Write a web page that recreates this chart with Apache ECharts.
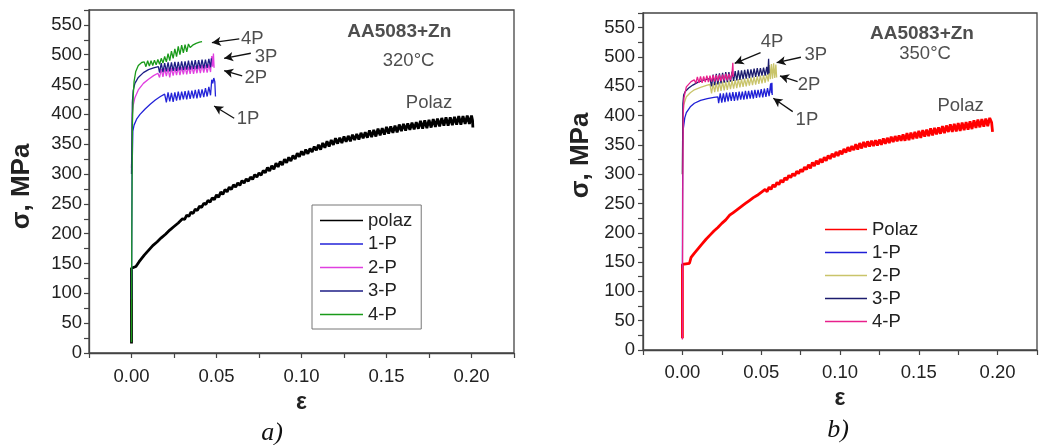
<!DOCTYPE html>
<html><head><meta charset="utf-8">
<script src="https://cdn.jsdelivr.net/npm/echarts@6/dist/echarts.min.js"></script>
<style>html,body{margin:0;padding:0;background:#fff}#c{width:1040px;height:445px}</style>
</head><body><div id="c"></div><script>
// ---------- tick labels ----------
const xTicks = [0, 0.05, 0.10, 0.15, 0.20];
const yTicks = [0, 50, 100, 150, 200, 250, 300, 350, 400, 450, 500, 550];

// ---------- a) 320°C ----------
const lPolaz = [[0,16],[0,142],[0.0026,145],[0.0045,153],[0.005,155],[0.0075,164],[0.010,172],[0.0125,180],[0.015,186],[0.0175,193],[0.020,199],[0.0225,206],[0.025,212],[0.0275,218],
[0.030,225],[0.03125,224],[0.0325,231],[0.03375,229],[0.035,236],[0.03625,234],[0.0375,241],[0.03875,239],[0.040,246],[0.04125,244],[0.0425,251],[0.04375,249],[0.045,256],[0.04625,253],[0.0475,260],[0.04875,257],
[0.050,265],[0.05125,261],[0.0525,270],[0.05375,266],[0.055,274],[0.05625,270],[0.0575,278],[0.05875,274],[0.060,282],[0.06125,278],[0.0625,285],[0.06375,281],[0.065,289],[0.06625,285],[0.0675,292],[0.06875,288],[0.070,295],[0.07125,291],[0.0725,299],[0.07375,295],[0.075,302],[0.07625,298],[0.0775,306],[0.07875,302],
[0.080,311],[0.08125,305],[0.0825,314],[0.08375,308],[0.085,318],[0.08625,312],[0.0875,321],[0.08875,315],[0.090,325],[0.09125,319],[0.0925,328],[0.09375,322],[0.095,331],[0.09625,325],[0.0975,335],[0.09875,329],[0.100,338],[0.10125,332],[0.1025,341],[0.10375,334],[0.105,343],[0.10625,337],[0.1075,346],[0.10875,340],
[0.110,349],[0.11125,341],[0.1125,352],[0.11375,344],[0.115,355],[0.11625,346],[0.1175,357],[0.11875,349],[0.120,360],[0.12125,351],[0.1225,361],[0.12375,352],[0.125,363],[0.12625,354],[0.1275,364],[0.12875,355],[0.130,366],[0.13125,357],[0.1325,367],[0.13375,358],[0.135,369],[0.13625,360],[0.1375,370],[0.13875,361],
[0.140,373],[0.14125,362],[0.1425,374],[0.14375,363],[0.145,376],[0.14625,365],[0.1475,377],[0.14875,366],[0.150,379],[0.15125,368],[0.1525,380],[0.15375,369],[0.155,381],[0.15625,370],[0.1575,383],[0.15875,372],[0.160,384],[0.16125,373],[0.1625,385],[0.16375,374],[0.165,386],[0.16625,375],[0.1675,387],[0.16875,376],
[0.170,389],[0.17125,376],[0.1725,390],[0.17375,377],[0.175,391],[0.17625,378],[0.1775,392],[0.17875,379],[0.180,393],[0.18125,380],[0.1825,394],[0.18375,381],[0.185,395],[0.18625,381],[0.1875,395],[0.18875,382],[0.190,396],[0.19125,383],[0.1925,397],[0.19375,383],[0.195,397],[0.19625,384],[0.1975,398],[0.19875,384],[0.200,398],[0.2006,390],[0.2008,378]];
const l1P = [[0,90],[0.0003,300],[0.0008,372],[0.0015,382],[0.003,392],[0.005,400],[0.008,409],[0.011,417],[0.014,424],[0.017,430],[0.0195,434],[0.0205,420],[0.0215,437],[0.0225,422],[0.0235,436],[0.0245,421],[0.0255,437],[0.0265,423],[0.0275,438],[0.0285,424],[0.0295,438],[0.0305,425],[0.0315,439],[0.0325,425],[0.0335,440],[0.0345,426],[0.0355,440],[0.0365,427],[0.0375,441],[0.0385,427],[0.0395,442],[0.0405,428],[0.0415,442],[0.0425,429],[0.0435,444],[0.0445,430],[0.0455,446],[0.0465,432],[0.0472,458],[0.0478,452],[0.0484,461],[0.0490,455],[0.0494,430]];
const l2P = [[0,310],[0.0005,400],[0.001,415],[0.002,428],[0.004,441],[0.007,452],[0.010,459],[0.013,465],[0.0155,469],[0.0165,462],[0.0175,476],[0.0185,463],[0.0195,477],[0.0205,464],[0.0215,477],[0.0225,462],[0.0235,478],[0.0245,465],[0.0255,478],[0.0265,466],[0.0275,479],[0.0285,466],[0.0295,479],[0.0305,467],[0.0315,480],[0.0325,467],[0.0335,480],[0.0345,468],[0.0355,481],[0.0365,468],[0.0375,481],[0.0385,469],[0.0395,482],[0.0405,469],[0.0415,483],[0.0425,470],[0.0435,483],[0.0445,470],[0.0455,484],[0.0465,471],[0.0472,498],[0.0477,480],[0.0482,502],[0.0486,478]];
const l3P = [[0,300],[0.0005,420],[0.001,440],[0.002,452],[0.004,462],[0.007,470],[0.010,475],[0.013,478],[0.0158,480],[0.0165,470],[0.0175,486],[0.0185,471],[0.0195,486],[0.0205,472],[0.0215,487],[0.0225,472],[0.0235,487],[0.0245,473],[0.0255,488],[0.0265,473],[0.0275,488],[0.0285,474],[0.0295,489],[0.0305,474],[0.0315,489],[0.0325,475],[0.0335,490],[0.0345,475],[0.0355,490],[0.0365,476],[0.0375,491],[0.0385,476],[0.0395,491],[0.0405,477],[0.0415,492],[0.0425,477],[0.0435,492],[0.0445,478],[0.0455,493],[0.0465,479],[0.047,494]];
const l4P = [[0,18],[0.0002,200],[0.0005,380],[0.001,430],[0.0015,455],[0.0025,472],[0.004,482],[0.006,487],[0.0075,488],[0.0085,480],[0.0095,490],[0.0105,481],[0.0115,490],[0.0125,482],[0.0135,491],[0.0145,483],[0.0155,492],[0.0165,484],[0.0175,494],[0.0185,486],[0.0195,497],[0.0205,488],[0.0215,502],[0.0225,490],[0.0235,506],[0.0245,494],[0.0255,510],[0.0265,497],[0.0275,514],[0.0285,500],[0.0295,516],[0.0305,503],[0.0315,517],[0.0325,505],[0.0335,518],[0.0345,512],[0.036,516],[0.038,519],[0.040,521],[0.0415,522]];
const lNotes = [['4P',0.071,526.5],['3P',0.0792,497],['2P',0.0731,462],['1P',0.0686,393],['Polaz',0.175,419],['320°C',0.163,490]];
const lHead = ['AA5083+Zn',0.1575,538];
const lArrows = [[0.0634,526.5,0.0473,520.3],[0.0702,502.5,0.0545,494],[0.0651,464.4,0.0545,473.3],[0.0604,393.5,0.0486,414]];

// ---------- b) 350°C ----------
const rPolaz = [[0,20],[0,146],[0.0045,148],[0.0055,158],[0.0075,165],[0.010,173],[0.0125,181],[0.015,189],[0.0175,196],[0.020,203],[0.0225,209],[0.025,216],[0.0275,222],
[0.030,230],[0.03125,228],[0.0325,235],[0.03375,233],[0.035,240],[0.03625,238],[0.0375,245],[0.03875,243],[0.040,250],[0.04125,248],[0.0425,255],[0.04375,253],[0.045,260],[0.04625,258],[0.0475,264],[0.04875,262],
[0.050,269],[0.05125,266],[0.0525,274],[0.05375,270],[0.055,278],[0.05625,274],[0.0575,282],[0.05875,278],[0.060,286],[0.06125,282],[0.0625,290],[0.06375,286],[0.065,294],[0.06625,290],[0.0675,298],[0.06875,294],[0.070,301],[0.07125,297],[0.0725,305],[0.07375,301],[0.075,308],[0.07625,304],[0.0775,312],[0.07875,308],
[0.080,316],[0.08125,310],[0.0825,320],[0.08375,314],[0.085,323],[0.08625,317],[0.0875,326],[0.08875,320],[0.090,329],[0.09125,323],[0.0925,332],[0.09375,326],[0.095,335],[0.09625,329],[0.0975,338],[0.09875,331],[0.100,340],[0.10125,334],[0.1025,343],[0.10375,337],[0.105,346],[0.10625,339],[0.1075,348],[0.10875,341],
[0.110,351],[0.11125,342],[0.1125,353],[0.11375,344],[0.115,355],[0.11625,346],[0.1175,356],[0.11875,347],[0.120,357],[0.12125,348],[0.1225,358],[0.12375,349],[0.125,359],[0.12625,350],[0.1275,361],[0.12875,352],[0.130,362],[0.13125,353],[0.1325,364],[0.13375,355],[0.135,365],[0.13625,356],[0.1375,366],[0.13875,357],
[0.140,368],[0.14125,357],[0.1425,370],[0.14375,358],[0.145,371],[0.14625,360],[0.1475,372],[0.14875,361],[0.150,374],[0.15125,362],[0.1525,375],[0.15375,364],[0.155,376],[0.15625,365],[0.1575,378],[0.15875,366],[0.160,379],[0.16125,368],[0.1625,380],[0.16375,369],[0.165,382],[0.16625,370],[0.1675,383],[0.16875,372],
[0.170,385],[0.17125,372],[0.1725,386],[0.17375,373],[0.175,387],[0.17625,374],[0.1775,388],[0.17875,375],[0.180,389],[0.18125,376],[0.1825,390],[0.18375,377],[0.185,392],[0.18625,379],[0.1875,393],[0.18875,380],[0.190,394],[0.19125,381],[0.1925,395],[0.19375,382],[0.195,396],[0.1962,388],[0.1968,372]];
const r1P = [[0,140],[0.0002,340],[0.0006,378],[0.0015,396],[0.0025,405],[0.005,415],[0.0076,421],[0.0115,426],[0.0158,429],[0.020,431],[0.0225,432],[0.023,421],[0.024,438],[0.025,422],[0.026,438],[0.027,423],[0.028,439],[0.029,424],[0.030,439],[0.031,425],[0.032,440],[0.033,425],[0.034,440],[0.035,426],[0.036,441],[0.037,427],[0.038,441],[0.039,427],[0.040,442],[0.041,428],[0.042,442],[0.043,429],[0.044,443],[0.045,429],[0.046,444],[0.047,430],[0.048,444],[0.049,431],[0.050,445],[0.051,431],[0.052,446],[0.053,432],[0.054,447],[0.055,433],[0.056,455],[0.0565,438],[0.0568,456],[0.057,435]];
const r2P = [[0,300],[0.0003,400],[0.0008,418],[0.0025,432],[0.005,439],[0.0076,444],[0.0115,448],[0.0158,452],[0.0175,453],[0.0185,438],[0.0195,455],[0.0205,440],[0.0215,456],[0.0225,441],[0.0235,457],[0.0245,442],[0.0255,458],[0.0265,443],[0.0275,458],[0.0285,444],[0.0295,459],[0.0305,445],[0.0315,460],[0.0325,446],[0.0335,461],[0.0345,447],[0.0355,462],[0.0365,448],[0.0375,462],[0.0385,449],[0.0395,463],[0.0405,450],[0.0415,464],[0.0425,451],[0.0435,465],[0.0445,452],[0.0455,466],[0.0465,453],[0.0475,467],[0.0485,454],[0.0495,468],[0.0505,455],[0.0515,469],[0.0525,456],[0.0535,470],[0.0545,458],[0.0552,486],[0.0558,462],[0.0565,488],[0.0572,463],[0.0579,489],[0.0586,464],[0.0593,487],[0.0598,465]];
const r3P = [[0,300],[0.0003,420],[0.0008,435],[0.0018,441],[0.004,447],[0.0066,452],[0.010,457],[0.0138,461],[0.0175,463],[0.0185,450],[0.0195,470],[0.0205,452],[0.0215,471],[0.0225,453],[0.0235,472],[0.0245,455],[0.0255,473],[0.0265,456],[0.0275,474],[0.0285,457],[0.0295,474],[0.0305,458],[0.0315,475],[0.0325,459],[0.0335,476],[0.0345,460],[0.0355,477],[0.0365,461],[0.0375,477],[0.0385,462],[0.0395,478],[0.0405,463],[0.0415,479],[0.0425,464],[0.0435,479],[0.0445,465],[0.0455,480],[0.0465,466],[0.0475,481],[0.0485,467],[0.0495,481],[0.0505,468],[0.0515,482],[0.0525,468],[0.0535,483],[0.0542,470],[0.0547,497],[0.055,472]];
const r4P = [[0,18],[0.0002,250],[0.0005,400],[0.001,430],[0.0025,449],[0.0055,458],[0.0075,461],[0.0085,455],[0.0095,466],[0.0105,456],[0.0115,467],[0.0125,456],[0.0135,467],[0.0145,457],[0.0155,468],[0.0165,457],[0.0175,468],[0.0185,458],[0.0195,469],[0.0205,458],[0.0215,469],[0.0225,459],[0.0235,470],[0.0245,459],[0.0255,470],[0.0265,460],[0.0275,471],[0.0285,460],[0.0295,471],[0.0305,461],[0.0315,472],[0.0320,490],[0.0323,466]];
const rNotes = [['4P',0.0569,526],['3P',0.0846,503],['2P',0.0803,453],['1P',0.079,392.5],['Polaz',0.1765,416],['350°C',0.154,505]];
const rHead = ['AA5083+Zn',0.152,540];
const rArrows = [[0.0496,507.3,0.0332,489.2],[0.0752,499.5,0.0598,490.3],[0.0731,457.8,0.0619,467.6],[0.070,406.7,0.0577,429.5]];

const lNames = ['polaz','1-P','2-P','3-P','4-P'];
const rNames = ['Polaz','1-P','2-P','3-P','4-P'];

// ---------- build ----------
const FONT = 'Liberation Sans, Arial, sans-serif';
const isTick = (arr, v) => arr.some(t => Math.abs(t - v) < 1e-9);

function xAx(gi) {
  return {
    type: 'value', gridIndex: gi, min: -0.025, max: 0.225, interval: 0.025,
    name: 'ε', nameLocation: 'middle', nameGap: 32,
    nameTextStyle: {fontFamily: FONT, fontSize: 23, fontWeight: 'bold', color: '#222'},
    axisLine: {show: true, onZero: false, lineStyle: {color: '#444', width: 1.3}},
    axisTick: {show: true, inside: false, length: 5, lineStyle: {color: '#444', width: 1.2}},
    axisLabel: {margin: gi === 0 ? 14 : 13, fontFamily: FONT, fontSize: 18.5, color: '#222',
      formatter: v => { const t = xTicks.find(t => Math.abs(t - v) < 1e-9); return t === undefined ? '' : t.toFixed(2); }},
    splitLine: {show: false}
  };
}
function yAx(gi) {
  return {
    type: 'value', gridIndex: gi, min: 0, max: 575, interval: 25,
    name: 'σ, MPa', nameLocation: 'middle', nameGap: gi === 0 ? 54 : 49,
    nameTextStyle: {fontFamily: FONT, fontSize: 26, fontWeight: 'bold', color: '#222',
      padding: gi === 0 ? [0, 10, 0, 0] : [0, 0, 0, 52]},
    axisLine: {show: true, onZero: false, lineStyle: {color: '#444', width: 1.3}},
    axisTick: {show: true, inside: false, length: 5, lineStyle: {color: '#444', width: 1.2}},
    axisLabel: {margin: gi === 0 ? 7 : 8, fontFamily: FONT, fontSize: 18.5, color: '#222',
      formatter: v => isTick(yTicks, v) ? String(v) : ''},
    splitLine: {show: false}
  };
}
function lineS(name, data, color, width, gi) {
  return {type: 'line', name, data, xAxisIndex: gi, yAxisIndex: gi, symbol: 'none', showSymbol: false,
    silent: true, animation: false, lineStyle: {color, width}, itemStyle: {color}, z: 2};
}
function noteS(notes, head, arrows, gi) {
  const items = notes.map(n => ({name: n[0], value: [n[1], n[2]]}));
  items.push({name: head[0], value: [head[1], head[2]], label: {fontWeight: 'bold', fontSize: 19}});
  return {type: 'scatter', data: items, xAxisIndex: gi, yAxisIndex: gi, symbolSize: 1, silent: true,
    animation: false, itemStyle: {color: 'rgba(0,0,0,0)'}, z: 5,
    label: {show: true, position: 'inside', formatter: '{b}', fontFamily: FONT, fontSize: 18.5, color: '#222'},
    markLine: {silent: true, animation: false, symbol: ['none', 'arrow'], symbolSize: [7, 9],
      lineStyle: {color: '#111', width: 1.3, type: 'solid'}, label: {show: false},
      data: arrows.map(a => [{coord: [a[0], a[1]]}, {coord: [a[2], a[3]]}])}
  };
}

const lColors = ['#000000', '#2323d8', '#e040e0', '#1e1e86', '#1a9a1a'];
const rColors = ['#ff0000', '#1f1fd6', '#c9c46a', '#1c1c6e', '#e8208c'];
const lData = [lPolaz, l1P, l2P, l3P, l4P];
const rData = [rPolaz, r1P, r2P, r3P, r4P];

const series = [];
lNames.forEach((n, i) => series.push(lineS(n, lData[i], lColors[i], i === 0 ? 2.8 : 1.3, 0)));
rNames.forEach((n, i) => series.push(lineS('b:' + n, rData[i], rColors[i], i === 0 ? 2.8 : 1.3, 1)));
series.push(noteS(lNotes, lHead, lArrows, 0));
series.push(noteS(rNotes, rHead, rArrows, 1));

const option = {
  animation: false,
  backgroundColor: '#fff',
  grid: [
    {left: 89, top: 10, width: 425, height: 343, show: true, borderColor: '#444', borderWidth: 1.3, backgroundColor: 'transparent'},
    {left: 643, top: 13, width: 407, height: 337, show: true, borderColor: '#444', borderWidth: 1.3, backgroundColor: 'transparent'}
  ],
  xAxis: [xAx(0), xAx(1)],
  yAxis: [yAx(0), yAx(1)],
  legend: [
    {data: lNames, orient: 'vertical', left: 312, top: 205, icon: 'rect', itemWidth: 43, itemHeight: 1.5,
     itemGap: 4.5, padding: [6, 9, 5, 8], borderColor: '#777', borderWidth: 1, selectedMode: false,
     textStyle: {fontFamily: FONT, fontSize: 18.5, color: '#222', lineHeight: 17.5}},
    {data: rNames.map(n => 'b:' + n), orient: 'vertical', left: 825, top: 213, icon: 'rect', itemWidth: 42, itemHeight: 1.5,
     itemGap: 4, padding: [7, 5, 5, 0], selectedMode: false, formatter: n => n.replace(/^b:/, ''),
     textStyle: {fontFamily: FONT, fontSize: 18.5, color: '#222', lineHeight: 17.5}}
  ],
  graphic: [
    {type: 'text', x: 272, y: 433, style: {text: 'a)', font: 'italic 26px "Liberation Serif", serif', fill: '#111', align: 'center', verticalAlign: 'middle'}},
    {type: 'text', x: 838, y: 430, style: {text: 'b)', font: 'italic 26px "Liberation Serif", serif', fill: '#111', align: 'center', verticalAlign: 'middle'}}
  ],
  series
};
const chart = echarts.init(document.getElementById('c'), null, {renderer: 'canvas'});
chart.setOption(option);
</script></body></html>
